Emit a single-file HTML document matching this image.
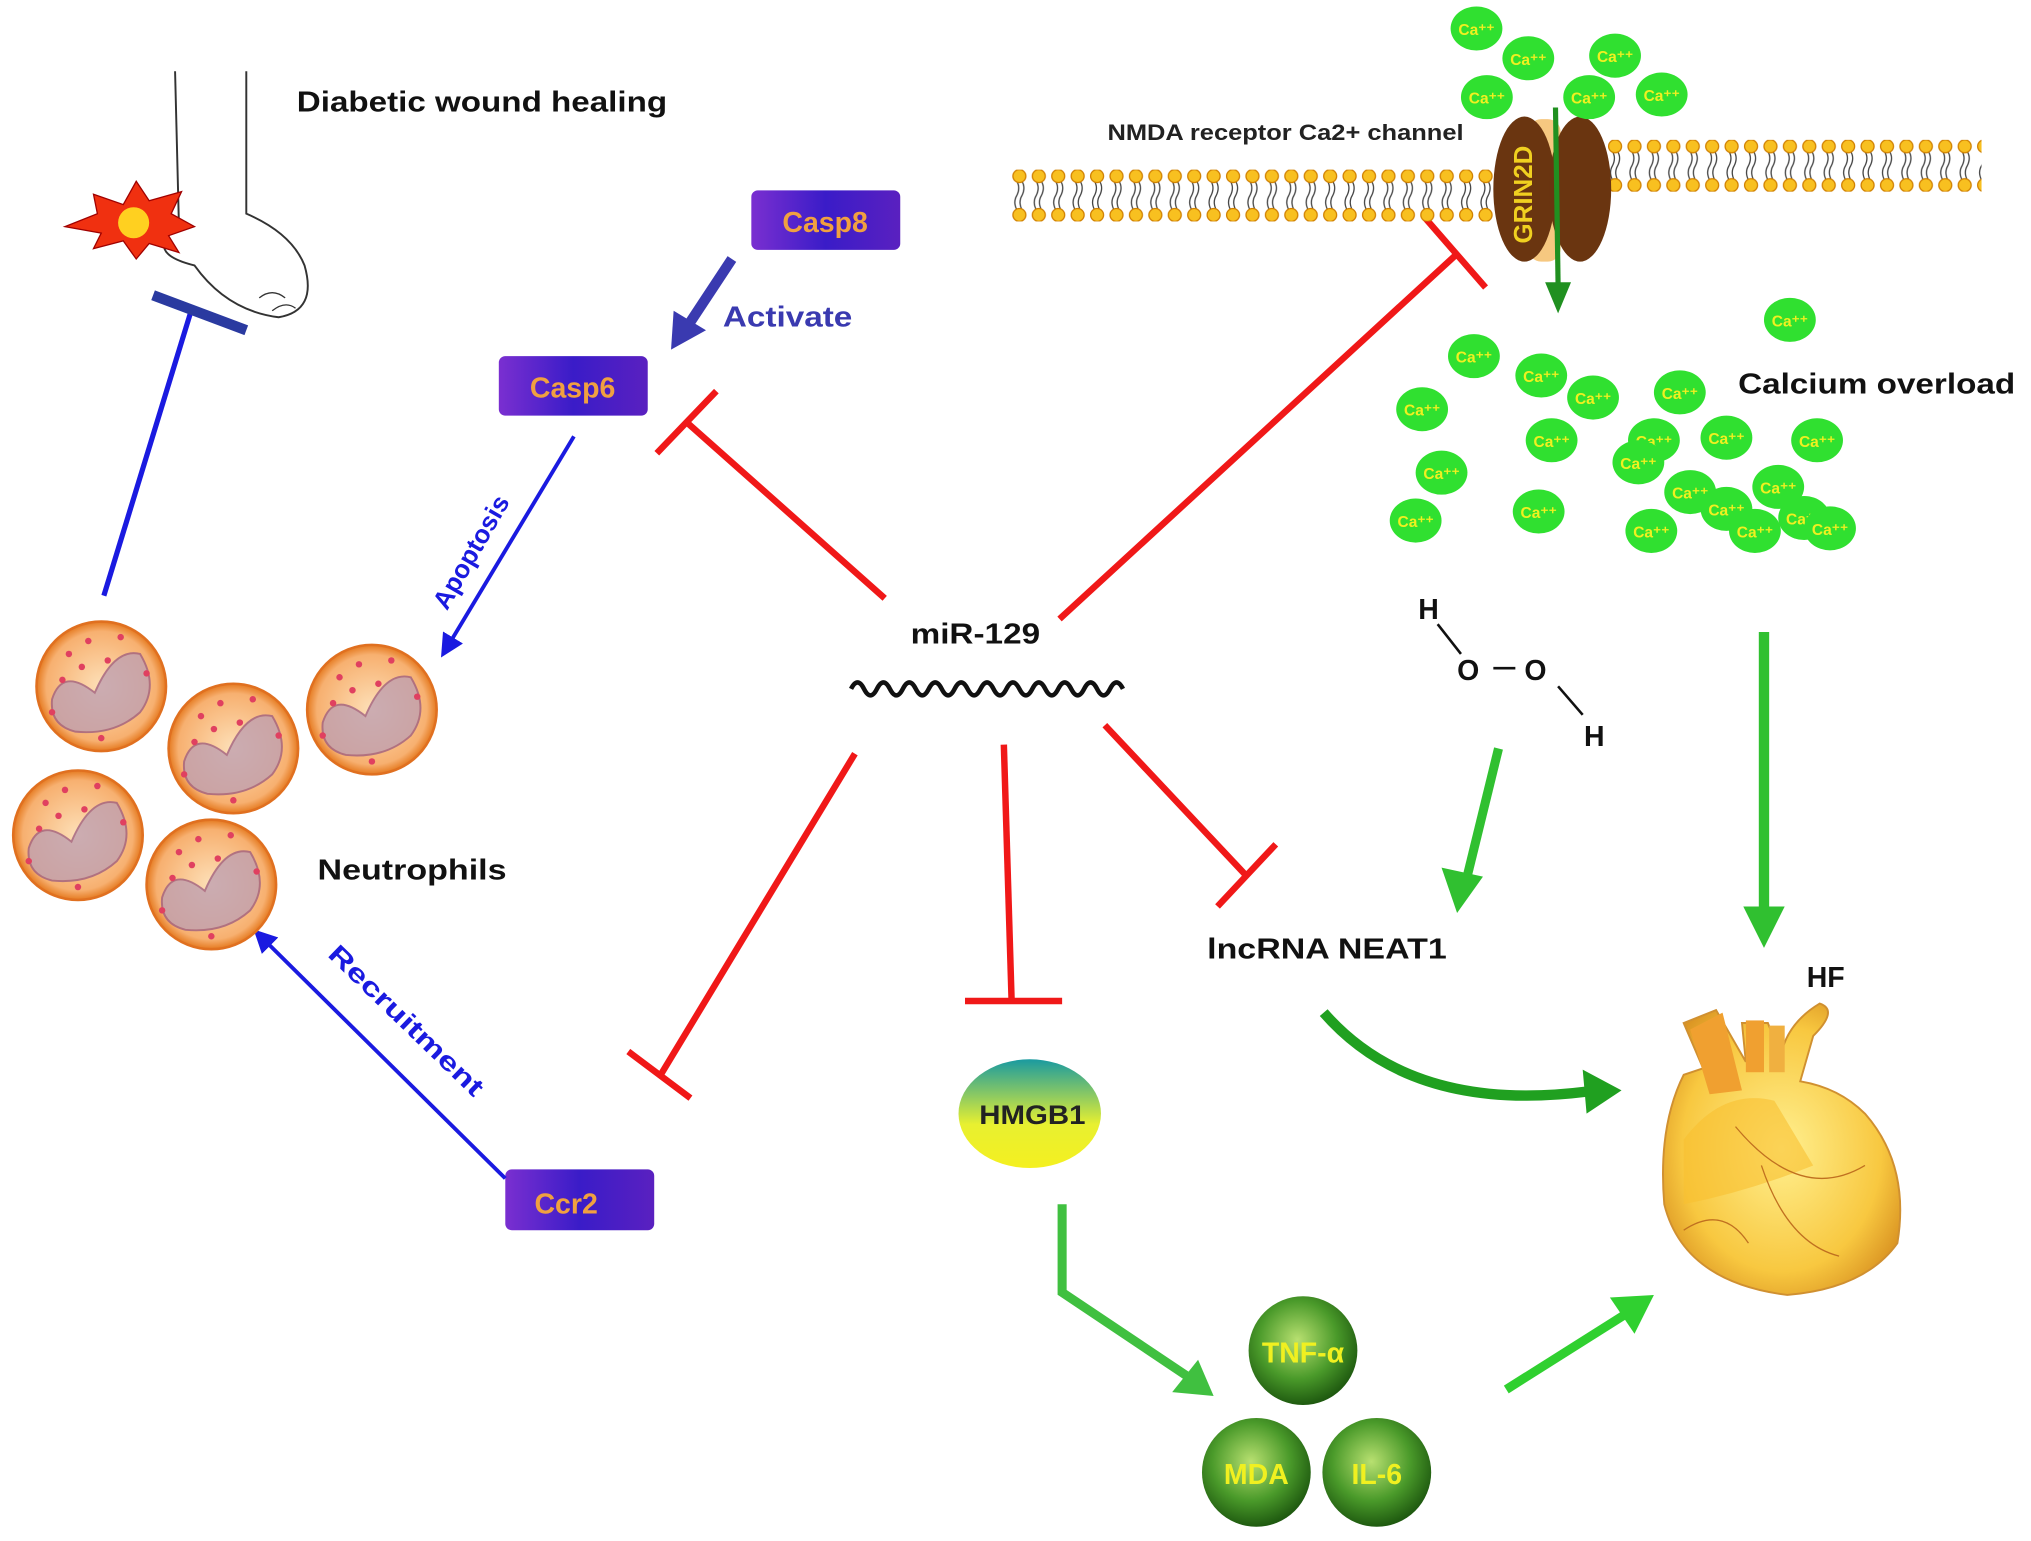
<!DOCTYPE html>
<html><head><meta charset="utf-8"><style>
html,body{margin:0;padding:0;background:#fff}
svg{display:block}
text{font-family:"Liberation Sans",Arial,sans-serif;font-weight:bold}
</style></head><body>
<svg width="2031" height="1541" viewBox="0 0 1568 1190" xmlns="http://www.w3.org/2000/svg">
<defs>
<linearGradient id="box" x1="0" y1="0" x2="1" y2="0"><stop offset="0" stop-color="#7a2fd0"/><stop offset="0.5" stop-color="#3a1cc8"/><stop offset="1" stop-color="#5a20c0"/></linearGradient>
<linearGradient id="hm" x1="0" y1="0" x2="0" y2="1"><stop offset="0" stop-color="#1a9aa0"/><stop offset="0.6" stop-color="#e8f030"/><stop offset="1" stop-color="#f4f020"/></linearGradient>
<radialGradient id="sph" cx="0.45" cy="0.4" r="0.6"><stop offset="0" stop-color="#b8e070"/><stop offset="0.6" stop-color="#4a9a2a"/><stop offset="1" stop-color="#1f5a10"/></radialGradient>
<radialGradient id="cell" cx="0.5" cy="0.5" r="0.5"><stop offset="0" stop-color="#fde0b8"/><stop offset="0.85" stop-color="#f7b070"/><stop offset="1" stop-color="#e57a20"/></radialGradient>
<radialGradient id="heart" cx="0.5" cy="0.5" r="0.6"><stop offset="0" stop-color="#fff090"/><stop offset="0.7" stop-color="#f8c840"/><stop offset="1" stop-color="#d89020"/></radialGradient>
<pattern id="heads" x="0" y="0" width="15" height="40" patternUnits="userSpaceOnUse">
<path d="M5 9 q3 5 0 11 q-3 5 0 11" stroke="#444" stroke-width="1" fill="none"/><path d="M9 9 q3 5 0 11 q-3 5 0 11" stroke="#444" stroke-width="1" fill="none"/>
<circle cx="7" cy="5" r="5" fill="#f8c020" stroke="#d08000" stroke-width="1"/>
<circle cx="7" cy="35" r="5" fill="#f8c020" stroke="#d08000" stroke-width="1"/>
</pattern>
<marker id="ab" markerWidth="6" markerHeight="6" refX="3" refY="3" orient="auto"><path d="M0,0 L6,3 L0,6 Z" fill="#1a1ae0"/></marker>
<g id="n">
<circle cx="0" cy="0" r="50" fill="url(#cell)" stroke="#e07020" stroke-width="2"/>
<path d="M-38 10 Q-30 -15 -5 5 Q10 -30 30 -25 Q45 0 30 20 Q10 38 -20 35 Q-40 30 -38 10Z" fill="#c0a0b0" stroke="#a06080" stroke-width="1.5" opacity="0.8"/>
<g fill="#e04060"><circle cx="-25" cy="-25" r="2.5"/><circle cx="-10" cy="-35" r="2.5"/><circle cx="5" cy="-20" r="2.5"/><circle cx="-30" cy="-5" r="2.5"/><circle cx="15" cy="-38" r="2.5"/><circle cx="-15" cy="-15" r="2.5"/><circle cx="35" cy="-10" r="2.5"/><circle cx="0" cy="40" r="2.5"/><circle cx="-38" cy="20" r="2.5"/></g>
</g>
<g id="ca"><ellipse cx="0" cy="0" rx="20" ry="17" fill="#30e030"/><text x="0" y="5" font-size="12" fill="#f0f020" text-anchor="middle">Ca⁺⁺</text></g>
</defs>

<!-- foot -->
<path d="M135 55 L138 175 Q110 195 150 205 Q175 240 215 245 Q245 240 235 205 Q225 180 190 165 L190 55" fill="#fff" stroke="#333" stroke-width="1.5"/>
<path d="M200 230 q10 -8 20 0 M210 240 q10 -8 18 -2" stroke="#333" fill="none"/>
<polygon points="50,175 75,165 72,150 95,158 105,140 115,155 140,148 132,165 150,175 130,182 138,195 115,188 105,200 95,186 72,192 78,180" fill="#f03010" stroke="#a00000"/>
<circle cx="103" cy="172" r="12" fill="#ffd020"/>
<text x="229" y="86" font-size="22" fill="#111" textLength="286" lengthAdjust="spacingAndGlyphs">Diabetic wound healing</text>
<line x1="80" y1="460" x2="148" y2="238" stroke="#1a1ae0" stroke-width="4"/>
<line x1="118" y1="228" x2="190" y2="255" stroke="#2a3aa0" stroke-width="8"/>

<!-- casp boxes -->
<rect x="580" y="147" width="115" height="46" rx="5" fill="url(#box)"/>
<text x="637" y="179" font-size="22" fill="#f0a040" text-anchor="middle">Casp8</text>
<rect x="385" y="275" width="115" height="46" rx="5" fill="url(#box)"/>
<text x="442" y="307" font-size="22" fill="#f0a040" text-anchor="middle">Casp6</text>
<rect x="390" y="903" width="115" height="47" rx="5" fill="url(#box)"/>
<text x="437" y="937" font-size="22" fill="#f0a040" text-anchor="middle">Ccr2</text>

<line x1="565" y1="200" x2="532" y2="250" stroke="#3a3ab0" stroke-width="8"/>
<polygon points="518,270 520,240 545,255" fill="#3a3ab0"/>
<text x="558" y="252" font-size="22" fill="#3a3ab0" textLength="100" lengthAdjust="spacingAndGlyphs">Activate</text>

<line x1="443" y1="337" x2="345" y2="500" stroke="#1a1ae0" stroke-width="3" marker-end="url(#ab)"/>
<text x="0" y="0" font-size="20" fill="#1a1ae0" transform="translate(345,472) rotate(-60)">Apoptosis</text>
<line x1="390" y1="910" x2="202" y2="724" stroke="#1a1ae0" stroke-width="3" marker-end="url(#ab)"/>
<text x="0" y="0" font-size="20" fill="#1a1ae0" transform="translate(252,738) rotate(44)" textLength="158" lengthAdjust="spacingAndGlyphs">Recruitment</text>

<!-- neutrophils -->
<use href="#n" x="78" y="530"/>
<use href="#n" x="180" y="578"/>
<use href="#n" x="287" y="548"/>
<use href="#n" x="60" y="645"/>
<use href="#n" x="163" y="683"/>
<text x="245" y="679" font-size="22" fill="#111" textLength="146" lengthAdjust="spacingAndGlyphs">Neutrophils</text>

<!-- miR-129 -->
<text x="703" y="497" font-size="22" fill="#111" textLength="100" lengthAdjust="spacingAndGlyphs">miR-129</text>
<path d="M657 532 q5 -10 10 0 q5 10 10 0 q5 -10 10 0 q5 10 10 0 q5 -10 10 0 q5 10 10 0 q5 -10 10 0 q5 10 10 0 q5 -10 10 0 q5 10 10 0 q5 -10 10 0 q5 10 10 0 q5 -10 10 0 q5 10 10 0 q5 -10 10 0 q5 10 10 0 q5 -10 10 0 q5 10 10 0 q5 -10 10 0 q5 10 10 0 q5 -10 10 0" stroke="#111" stroke-width="3.5" fill="none"/>

<g stroke="#f01818" stroke-width="5" fill="none">
<line x1="683" y1="462" x2="530" y2="326"/><line x1="507" y1="350" x2="553" y2="302"/>
<line x1="660" y1="582" x2="510" y2="830"/><line x1="485" y1="812" x2="533" y2="848"/>
<line x1="775" y1="575" x2="781" y2="773"/><line x1="745" y1="773" x2="820" y2="773"/>
<line x1="853" y1="560" x2="962" y2="676"/><line x1="940" y1="700" x2="985" y2="652"/>
<line x1="818" y1="478" x2="1125" y2="196"/><line x1="1100" y1="168" x2="1147" y2="222"/>
</g>

<!-- HMGB1 -->
<ellipse cx="795" cy="860" rx="55" ry="42" fill="url(#hm)"/>
<text x="797" y="868" font-size="21" fill="#222" text-anchor="middle" textLength="82" lengthAdjust="spacingAndGlyphs">HMGB1</text>
<polyline points="820,930 820,998 920,1065" stroke="#40c040" stroke-width="7" fill="none"/>
<polygon points="937,1078 905,1075 925,1050" fill="#40c040"/>
<circle cx="1006" cy="1043" r="42" fill="url(#sph)"/>
<circle cx="970" cy="1137" r="42" fill="url(#sph)"/>
<circle cx="1063" cy="1137" r="42" fill="url(#sph)"/>
<text x="1006" y="1052" font-size="22" fill="#f0f020" text-anchor="middle">TNF-α</text>
<text x="970" y="1146" font-size="22" fill="#f0f020" text-anchor="middle">MDA</text>
<text x="1063" y="1146" font-size="22" fill="#f0f020" text-anchor="middle">IL-6</text>
<line x1="1163" y1="1073" x2="1258" y2="1013" stroke="#30d030" stroke-width="7"/>
<polygon points="1277,1000 1262,1030 1243,1002" fill="#30d030"/>

<!-- lncRNA -->
<text x="932" y="740" font-size="22" fill="#111" textLength="185" lengthAdjust="spacingAndGlyphs">lncRNA NEAT1</text>
<path d="M1022 782 Q1090 860 1225 843" stroke="#20a020" stroke-width="8" fill="none"/>
<polygon points="1252,842 1222,826 1225,860" fill="#20a020"/>

<!-- H2O2 -->
<g font-size="22" fill="#111">
<text x="1095" y="478">H</text><text x="1125" y="525">O</text><text x="1177" y="525">O</text><text x="1223" y="576">H</text>
</g>
<line x1="1110" y1="482" x2="1128" y2="505" stroke="#111" stroke-width="2"/>
<line x1="1153" y1="516" x2="1170" y2="516" stroke="#111" stroke-width="2"/>
<line x1="1203" y1="530" x2="1222" y2="552" stroke="#111" stroke-width="2"/>
<line x1="1157" y1="578" x2="1132" y2="680" stroke="#30c030" stroke-width="7"/>
<polygon points="1125,705 1113,670 1145,677" fill="#30c030"/>
<line x1="1362" y1="488" x2="1362" y2="705" stroke="#30c030" stroke-width="8"/>
<polygon points="1362,732 1346,700 1378,700" fill="#30c030"/>

<!-- heart -->
<text x="1395" y="762" font-size="22" fill="#111">HF</text>
<path d="M1300 830 Q1280 870 1285 930 Q1300 990 1380 1000 Q1440 995 1465 960 Q1475 900 1440 860 Q1420 840 1390 835 L1400 800 Q1420 780 1405 775 Q1380 790 1375 815 L1365 790 L1345 790 L1348 820 L1325 780 L1300 790 L1315 825Z" fill="url(#heart)" stroke="#d09030" stroke-width="1.5"/>
<path d="M1305 795 L1330 782 L1345 842 L1320 845Z" fill="#f0a030"/>
<rect x="1348" y="788" width="14" height="40" fill="#f0a030"/>
<rect x="1366" y="792" width="12" height="36" fill="#f0b040"/>
<path d="M1300 880 Q1330 840 1370 850 L1400 900 Q1350 920 1300 930Z" fill="#f8c030" opacity="0.6"/>
<path d="M1340 870 Q1390 930 1440 900 M1360 900 Q1380 960 1420 970 M1300 950 Q1330 930 1350 960" stroke="#c07020" fill="none"/>

<!-- membrane -->
<g transform="translate(780,131)"><rect x="0" y="0" width="380" height="40" fill="url(#heads)"/></g>
<g transform="translate(1240,108)"><rect x="0" y="0" width="290" height="40" fill="url(#heads)"/></g>
<text x="855" y="108" font-size="17" fill="#222" textLength="275" lengthAdjust="spacingAndGlyphs">NMDA receptor Ca2+ channel</text>
<rect x="1180" y="92" width="25" height="110" rx="10" fill="#f6c880"/>
<ellipse cx="1177" cy="146" rx="24" ry="56" fill="#6a3510"/>
<ellipse cx="1220" cy="146" rx="24" ry="56" fill="#6a3510"/>
<text x="0" y="0" font-size="20" fill="#f0d020" transform="translate(1183,188) rotate(-90)">GRIN2D</text>
<line x1="1201" y1="83" x2="1203" y2="220" stroke="#209020" stroke-width="4"/>
<polygon points="1203,242 1193,218 1213,218" fill="#209020"/>
<text x="1342" y="304" font-size="22" fill="#111" textLength="214" lengthAdjust="spacingAndGlyphs">Calcium overload</text>

<!-- Ca ions -->
<use href="#ca" x="1140" y="22"/><use href="#ca" x="1180" y="45"/><use href="#ca" x="1247" y="43"/>
<use href="#ca" x="1148" y="75"/><use href="#ca" x="1227" y="75"/><use href="#ca" x="1283" y="73"/>
<use href="#ca" x="1382" y="247"/><use href="#ca" x="1138" y="275"/><use href="#ca" x="1190" y="290"/>
<use href="#ca" x="1230" y="307"/><use href="#ca" x="1297" y="303"/><use href="#ca" x="1098" y="316"/>
<use href="#ca" x="1198" y="340"/><use href="#ca" x="1277" y="340"/><use href="#ca" x="1333" y="338"/>
<use href="#ca" x="1403" y="340"/><use href="#ca" x="1265" y="357"/><use href="#ca" x="1113" y="365"/>
<use href="#ca" x="1305" y="380"/><use href="#ca" x="1373" y="376"/><use href="#ca" x="1333" y="393"/>
<use href="#ca" x="1093" y="402"/><use href="#ca" x="1188" y="395"/><use href="#ca" x="1275" y="410"/>
<use href="#ca" x="1355" y="410"/><use href="#ca" x="1393" y="400"/><use href="#ca" x="1413" y="408"/>
</svg>
</body></html>
